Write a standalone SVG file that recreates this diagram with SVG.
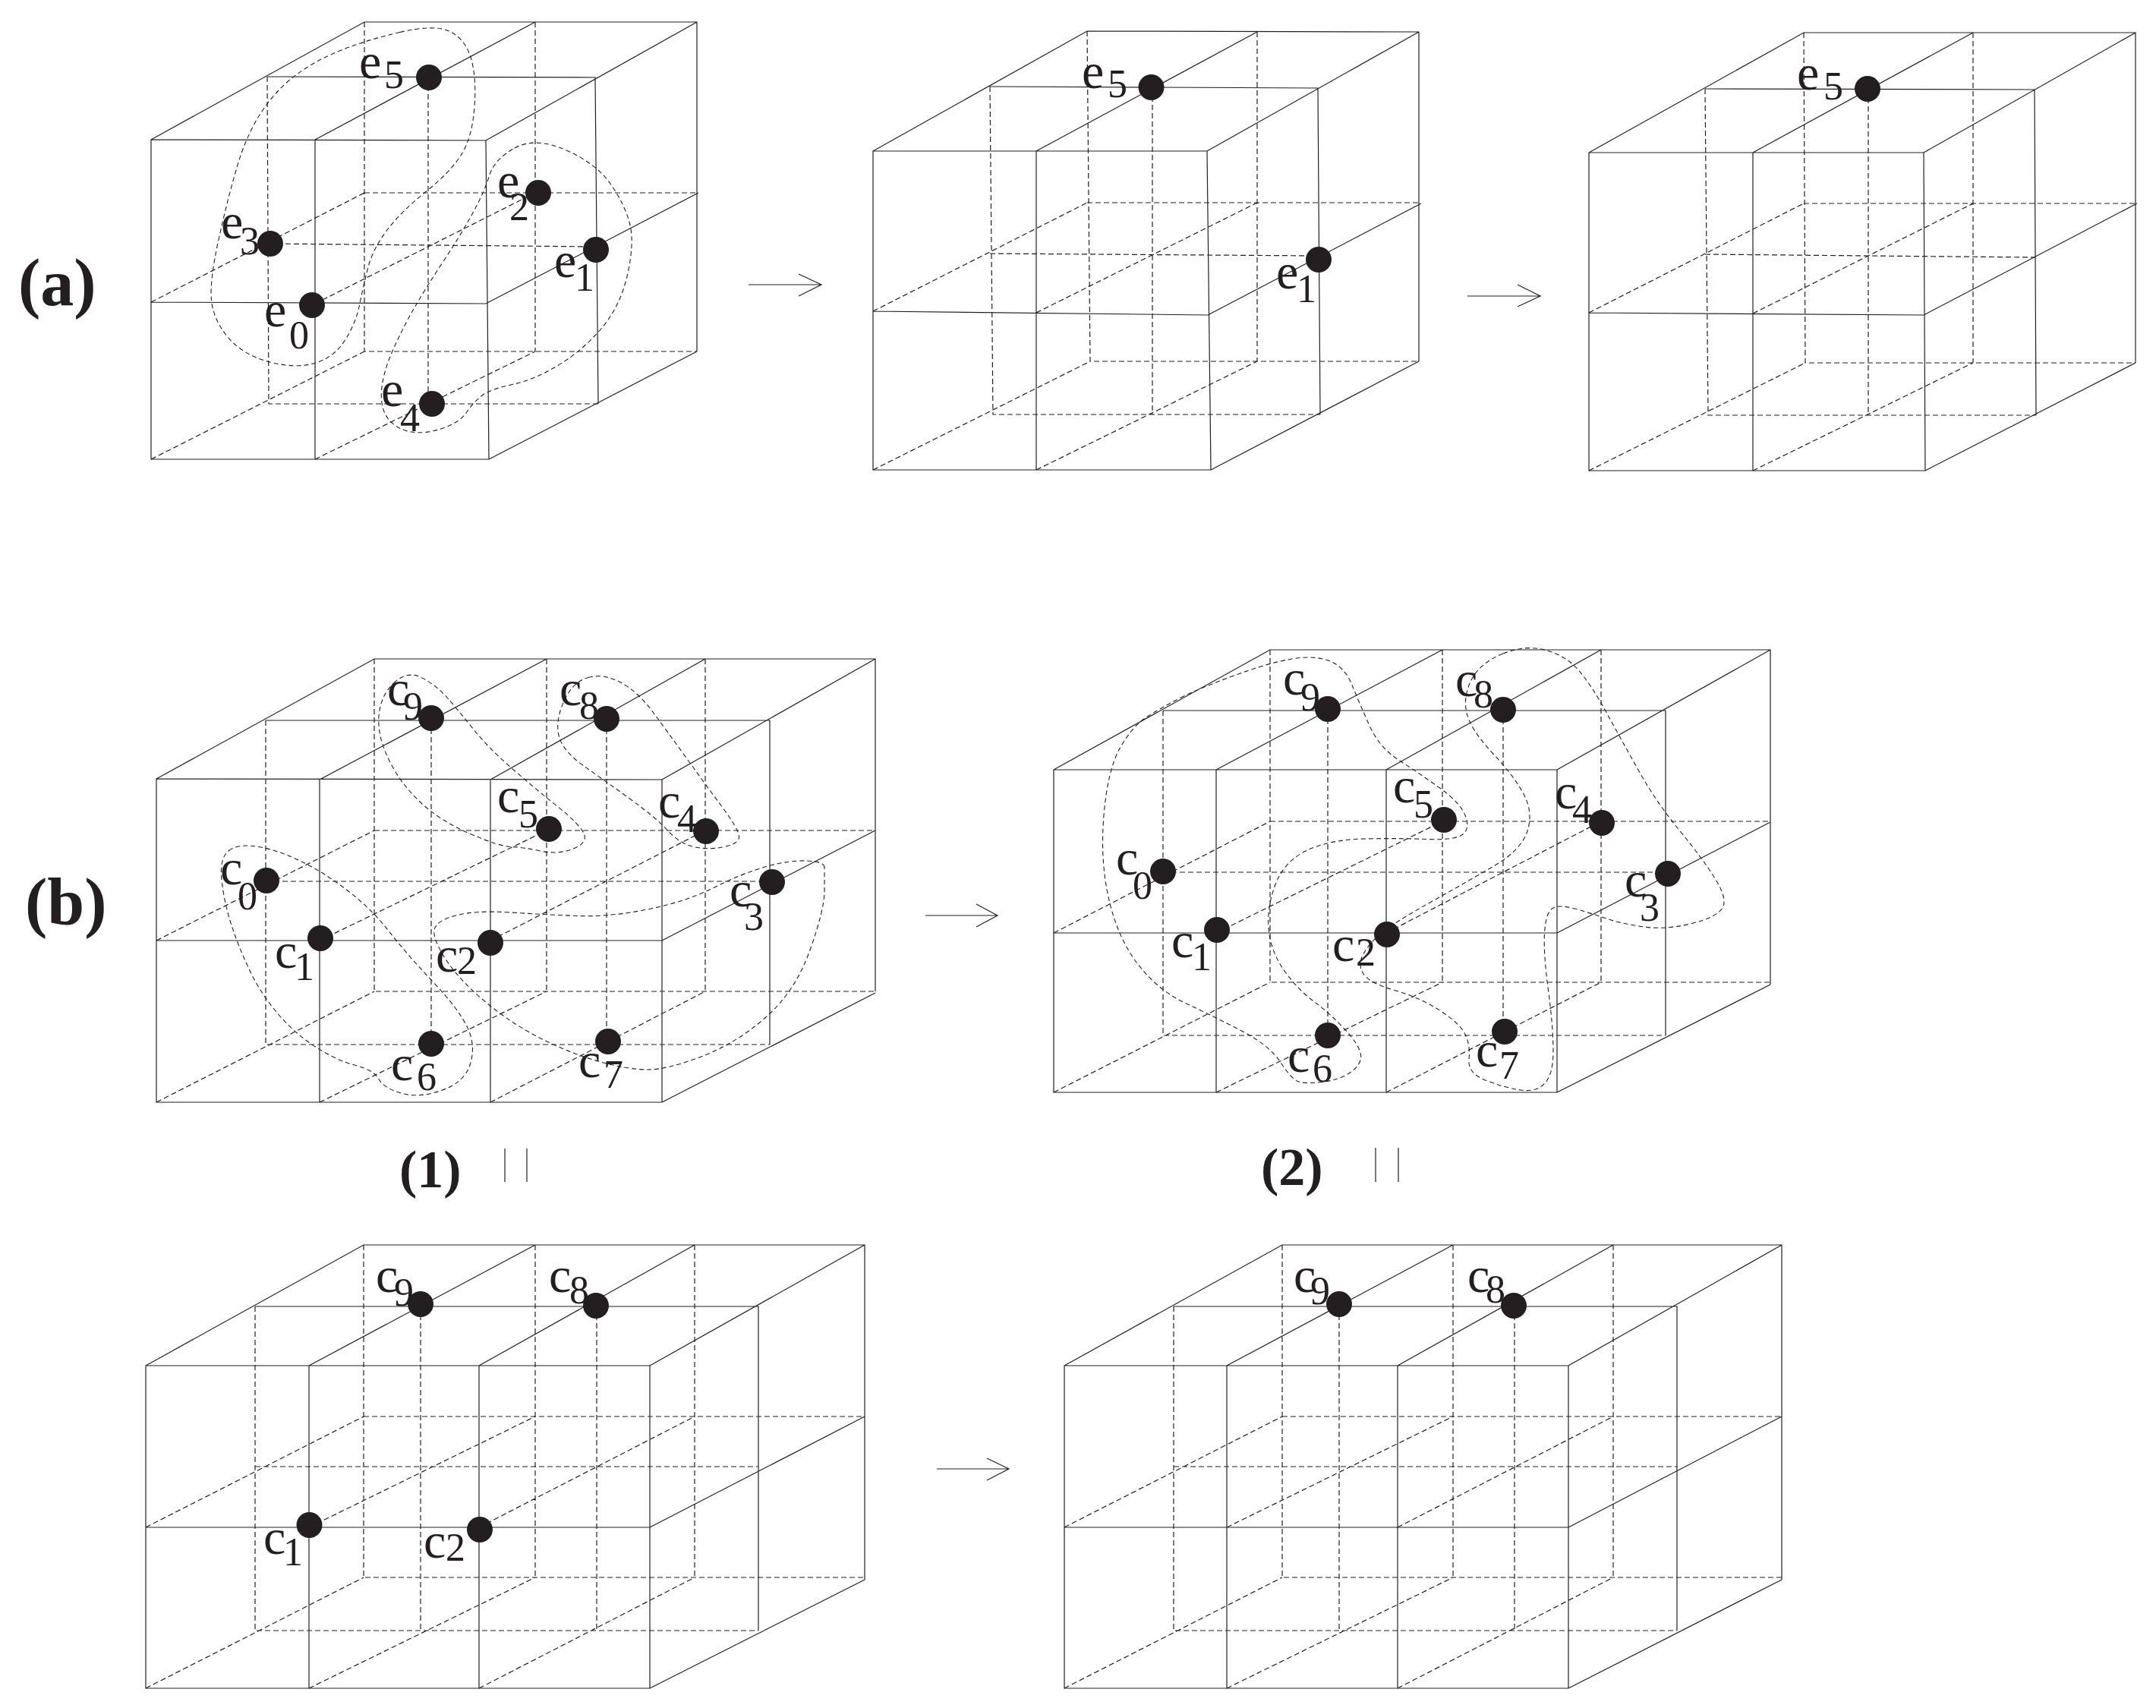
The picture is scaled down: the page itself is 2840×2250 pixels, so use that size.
<svg xmlns="http://www.w3.org/2000/svg" width="2840" height="2250" viewBox="0 0 2840 2250">
<style>
.s{fill:none;stroke:#231f20;stroke-width:1.2}
.d{fill:none;stroke:#231f20;stroke-width:1.2;stroke-dasharray:7 4}
.b{fill:none;stroke:#231f20;stroke-width:1.1;stroke-dasharray:6 4}
.dot{fill:#231f20}
text{font-family:"Liberation Serif","Times New Roman",serif;fill:#231f20}
.l{font-size:66px}
.n{font-size:52px}
.t{font-size:88px;font-weight:bold}
.u{font-size:70px;font-weight:bold}
</style>
<rect width="2840" height="2250" fill="#fff"/>
<g id="connectors">
<g id="grid-a1"><path class="s" d="M199 184L640 185L644 605H199Z M415 184V605 M199 398L640 400 M199 184L480 29H918V463 M415 184L705 29 M640 185L918 29 M352 101L784 102L788 532 M640 400L920 254 M644 605L918 463"/><path class="d" d="M352 101L354 532H788 M480 29V463H918 M705 29V463 M564 102V532 M480 254H920 M354 321L785 325 M199 398L480 254 M415 400L705 254 M199 605L480 463 M415 605L705 463"/></g>
<g id="grid-a2"><path class="s" d="M1150 199H1590L1595 619H1150Z M1365 199V619 M1150 410L1591 415 M1150 199L1432 41L1869 42V476 M1365 199L1656 42 M1590 199L1869 42 M1304 114L1736 116L1739 546 M1591 415L1872 268 M1595 619L1869 476"/><path class="d" d="M1304 114L1308 546H1739 M1432 41L1436 476H1869 M1656 42V476 M1518 116V546 M1432 267H1872 M1304 334L1736 337 M1150 410L1432 267 M1365 412L1656 267 M1150 619L1436 476 M1365 619L1656 476"/></g>
<g id="grid-a3"><path class="s" d="M2093 201H2534L2536 620H2093Z M2309 201V620 M2093 412L2534 415 M2093 201L2376 43H2813V478 M2309 201L2599 43 M2534 201L2813 43 M2246 117L2680 118L2682 547 M2534 415L2815 268 M2536 620L2813 478"/><path class="d" d="M2246 117L2250 547H2682 M2376 43L2378 478H2813 M2599 43V478 M2461 118V547 M2376 268H2815 M2246 335L2681 339 M2093 412L2376 268 M2309 413L2599 268 M2093 620L2378 478 M2309 620L2599 478"/></g>
<g id="grid-b1"><path class="s" d="M206 1026L872 1027V1452H206Z M421 1027V1452 M646 1027V1452 M206 1239H872 M206 1026L493 868H1153V1306 M421 1027L720 868 M646 1027L929 868 M872 1027L1153 868 M350 949H1014V1376 M872 1239L1153 1094 M872 1452L1153 1308"/><path class="d" d="M350 949V1376H1014 M493 868V1306H1153 M568 949V1376 M799 949V1376 M720 868V1306 M929 868V1306 M493 1094H1153 M350 1161H1014 M206 1239L493 1094 M421 1239L720 1094 M646 1239L929 1094 M206 1452L493 1306 M421 1452L720 1306 M646 1452L929 1306"/></g>
<g id="grid-b2"><path class="s" d="M1388 1014H2051V1439H1388Z M1602 1014V1439 M1826 1014V1439 M1388 1229H2051 M1388 1014L1673 856H2332V1297 M1602 1014L1900 856 M1826 1014L2109 856 M2051 1014L2332 856 M1532 936H2194V1364 M2051 1229L2332 1083 M2051 1439L2332 1297"/><path class="d" d="M1532 936V1364H2194 M1673 856V1294H2332 M1749 936V1364 M1980 936V1364 M1900 856V1294 M2109 856V1294 M1673 1082H2332 M1532 1149H2194 M1388 1229L1673 1082 M1602 1229L1900 1082 M1826 1229L2109 1082 M1388 1439L1673 1294 M1602 1439L1900 1294 M1826 1439L2109 1294"/></g>
<g id="grid-c1"><path class="s" d="M192 1799H856V2224H192Z M407 1799V2224 M631 1799V2224 M192 2012H856 M192 1799L479 1640H1139V2081 M407 1799L705 1640 M631 1799L915 1640 M856 1799L1139 1640 M336 1721H999V2148 M856 2012L1139 1866 M856 2224L1139 2081"/><path class="d" d="M336 1721V2148H999 M479 1640V2078H1139 M554 1721V2148 M786 1721V2148 M705 1640V2078 M915 1640V2078 M479 1866H1139 M336 1932H999 M192 2012L479 1866 M407 2012L705 1866 M631 2012L915 1866 M192 2224L479 2078 M407 2224L705 2078 M631 2224L915 2078"/></g>
<g id="grid-c2"><path class="s" d="M1402 1799H2066V2224H1402Z M1616 1799V2224 M1841 1799V2224 M1402 2012H2066 M1402 1799L1689 1640H2347V2081 M1616 1799L1914 1640 M1841 1799L2125 1640 M2066 1799L2347 1640 M1546 1721H2209V2148 M2066 2012L2347 1866 M2066 2224L2347 2081"/><path class="d" d="M1546 1721V2148H2209 M1689 1640V2078H2347 M1764 1721V2148 M1995 1721V2148 M1914 1640V2078 M2125 1640V2078 M1689 1866H2347 M1546 1932H2209 M1402 2012L1689 1866 M1616 2012L1914 1866 M1841 2012L2125 1866 M1402 2224L1689 2078 M1616 2224L1914 2078 M1841 2224L2125 2078"/></g>
<g id="blobs">
<path class="b" d="M526.5 42.5Q571 32 591.5 41Q612 50 620 75.5Q628 101 625 141Q622 181 607.5 204Q593 227 561 252.5Q529 278 510 303Q491 328 484.5 353.5Q478 379 473.5 402Q469 425 454.5 448Q440 471 414.5 478.5Q389 486 354 476.5Q319 467 300 444Q281 421 278.5 395.5Q276 370 288 315.5Q300 261 312.5 219Q325 177 344.5 147.5Q364 118 389.5 99Q415 80 448.5 66.5Q482 53 526.5 42.5Z"/>
<path class="b" d="M678 195Q705 180 745 197.5Q785 215 804 242Q823 269 829.5 294.5Q836 320 826.5 362Q817 404 791.5 433.5Q766 463 734 482Q702 501 673 507Q644 513 633 522.5Q622 532 614 544Q606 556 583.5 564Q561 572 542 569Q523 566 512 552.5Q501 539 502.5 515.5Q504 492 517 462.5Q530 433 545.5 406Q561 379 583.5 345Q606 311 622 282Q638 253 644.5 231.5Q651 210 678 195Z"/>
<path class="b" d="M518.5 900Q536 883 555 892.5Q574 902 589 919Q604 936 623.5 960.5Q643 985 673.5 1011.5Q704 1038 734.5 1062.5Q765 1087 769.5 1099Q774 1111 754 1118.5Q734 1126 711.5 1121Q689 1116 673.5 1115.5Q658 1115 619.5 1098.5Q581 1082 554.5 1057.5Q528 1033 512.5 1001.5Q497 970 499 943.5Q501 917 518.5 900Z"/>
<path class="b" d="M775 892.5Q796 887 818.5 899.5Q841 912 860.5 938.5Q880 965 904.5 999Q929 1033 950.5 1062Q972 1091 973.5 1101Q975 1111 954 1115.5Q933 1120 914 1115.5Q895 1111 879.5 1094Q864 1077 830 1052.5Q796 1028 769 1009Q742 990 736.5 970.5Q731 951 742.5 924.5Q754 898 775 892.5Z"/>
<path class="b" d="M301.5 1120.5Q314 1111 340.5 1115.5Q367 1120 397.5 1135Q428 1150 459 1174Q490 1198 512.5 1227Q535 1256 569.5 1292.5Q604 1329 615.5 1353Q627 1377 619.5 1401.5Q612 1426 581.5 1436.5Q551 1447 528 1440Q505 1433 499 1421.5Q493 1410 468.5 1403.5Q444 1397 417 1380Q390 1363 367 1336.5Q344 1310 329 1278.5Q314 1247 304.5 1217.5Q295 1188 292 1159Q289 1130 301.5 1120.5Z"/>
<path class="b" d="M1086 1142.5Q1086 1135 1063 1134Q1040 1133 1009.5 1141.5Q979 1150 941 1169Q903 1188 853 1198Q803 1208 761 1206.5Q719 1205 673 1202Q627 1199 600.5 1206Q574 1213 572 1225Q570 1237 587 1263.5Q604 1290 638.5 1319Q673 1348 711.5 1367.5Q750 1387 788 1398Q826 1409 853 1409Q880 1409 926 1391Q972 1373 1010 1339Q1048 1305 1067 1251.5Q1086 1198 1086 1174Q1086 1150 1086 1142.5Z"/>
<path class="b" d="M1555.5 919Q1579 907 1625.5 890Q1672 873 1701.5 868Q1731 863 1751 870.5Q1771 878 1781 902.5Q1791 927 1804 956Q1817 985 1843.5 1002Q1870 1019 1896.5 1038Q1923 1057 1930 1074Q1937 1091 1927 1099Q1917 1107 1880.5 1105.5Q1844 1104 1797.5 1105Q1751 1106 1721 1120.5Q1691 1135 1679.5 1166.5Q1668 1198 1671.5 1227Q1675 1256 1693 1280.5Q1711 1305 1731 1319.5Q1751 1334 1771 1355.5Q1791 1377 1792.5 1389.5Q1794 1402 1779 1412.5Q1764 1423 1741 1425.5Q1718 1428 1709.5 1424.5Q1701 1421 1686.5 1399Q1672 1377 1635.5 1358Q1599 1339 1562.5 1322Q1526 1305 1499.5 1271Q1473 1237 1461 1186Q1449 1135 1454 1074.5Q1459 1014 1475.5 985Q1492 956 1512 943.5Q1532 931 1555.5 919Z"/>
<path class="b" d="M1980 861Q2010 849 2036.5 856.5Q2063 864 2079.5 883Q2096 902 2116 938.5Q2136 975 2159 1016Q2182 1057 2212 1093.5Q2242 1130 2259 1157Q2276 1184 2269 1196Q2262 1208 2228.5 1216.5Q2195 1225 2165.5 1221Q2136 1217 2116 1210Q2096 1203 2074.5 1197Q2053 1191 2044.5 1197Q2036 1203 2034.5 1229.5Q2033 1256 2039.5 1304.5Q2046 1353 2046 1384.5Q2046 1416 2034.5 1427.5Q2023 1439 2003 1436Q1983 1433 1958 1423.5Q1933 1414 1935 1395.5Q1937 1377 1930 1362.5Q1923 1348 1896.5 1331Q1870 1314 1837 1304.5Q1804 1295 1796 1283Q1788 1271 1796 1256.5Q1804 1242 1820.5 1228.5Q1837 1215 1887 1187Q1937 1159 1970 1139.5Q2003 1120 2011.5 1096Q2020 1072 2008 1048Q1996 1024 1966.5 992.5Q1937 961 1932 939Q1927 917 1938.5 895Q1950 873 1980 861Z"/>
</g>
<g id="arrows">
<path class="s" d="M986 375H1082M1052 361L1082 375L1052 390"/>
<path class="s" d="M1933 390H2029M1999 375L2029 390L1999 404"/>
<path class="s" d="M1219 1206H1314M1286 1191L1314 1206L1286 1221"/>
<path class="s" d="M1234 1935H1329M1300 1921L1329 1935L1300 1950"/>
</g>
<g id="bars">
<path class="s" d="M665 1513V1557M694 1513V1557M1812 1512V1557M1842 1512V1557"/>
</g>
</g>
<g id="titles">
<text class="t" x="24" y="402">(a)</text>
<text class="t" x="33" y="1218">(b)</text>
<text class="u" x="526" y="1564">(1)</text>
<text class="u" x="1661" y="1561">(2)</text>
</g>
<g id="a1-e0"><circle class="dot" cx="411" cy="402" r="17"/><text class="l" x="348" y="430">e<tspan class="n" x="381" y="459">0</tspan></text></g>
<g id="a1-e1"><circle class="dot" cx="785" cy="329" r="17"/><text class="l" x="730" y="365">e<tspan class="n" x="757" y="383">1</tspan></text></g>
<g id="a1-e2"><circle class="dot" cx="709" cy="254" r="17"/><text class="l" x="655" y="260">e<tspan class="n" x="671" y="290">2</tspan></text></g>
<g id="a1-e3"><circle class="dot" cx="356" cy="321" r="17"/><text class="l" x="291" y="314">e<tspan class="n" x="316" y="335">3</tspan></text></g>
<g id="a1-e4"><circle class="dot" cx="569" cy="532" r="17"/><text class="l" x="502" y="535">e<tspan class="n" x="527" y="568">4</tspan></text></g>
<g id="a1-e5"><circle class="dot" cx="565" cy="102" r="17"/><text class="l" x="473" y="103">e<tspan class="n" x="506" y="116">5</tspan></text></g>
<g id="a2-e5"><circle class="dot" cx="1516.5" cy="115" r="17"/><text class="l" x="1425" y="116">e<tspan class="n" x="1459" y="128">5</tspan></text></g>
<g id="a2-e1"><circle class="dot" cx="1737" cy="342" r="17"/><text class="l" x="1681" y="380">e<tspan class="n" x="1708" y="398">1</tspan></text></g>
<g id="a3-e5"><circle class="dot" cx="2460" cy="117" r="17"/><text class="l" x="2367" y="118">e<tspan class="n" x="2402" y="131">5</tspan></text></g>
<g id="b1-c0"><circle class="dot" cx="351" cy="1160" r="17"/><text class="l" x="290" y="1165">c<tspan class="n" x="313" y="1198">0</tspan></text></g>
<g id="b1-c1"><circle class="dot" cx="422" cy="1236" r="17"/><text class="l" x="362" y="1275">c<tspan class="n" x="388" y="1291">1</tspan></text></g>
<g id="b1-c2"><circle class="dot" cx="646" cy="1242" r="17"/><text class="l" x="574" y="1280">c<tspan class="n" x="602" y="1283">2</tspan></text></g>
<g id="b1-c3"><circle class="dot" cx="1017" cy="1162" r="17"/><text class="l" x="961" y="1194">c<tspan class="n" x="980" y="1225">3</tspan></text></g>
<g id="b1-c4"><circle class="dot" cx="930" cy="1095" r="17"/><text class="l" x="867" y="1077">c<tspan class="n" x="892" y="1096">4</tspan></text></g>
<g id="b1-c5"><circle class="dot" cx="723" cy="1092" r="17"/><text class="l" x="655" y="1070">c<tspan class="n" x="683" y="1090">5</tspan></text></g>
<g id="b1-c6"><circle class="dot" cx="568" cy="1375" r="17"/><text class="l" x="515" y="1423">c<tspan class="n" x="549" y="1436">6</tspan></text></g>
<g id="b1-c7"><circle class="dot" cx="801" cy="1372" r="17"/><text class="l" x="762" y="1419">c<tspan class="n" x="795" y="1433">7</tspan></text></g>
<g id="b1-c8"><circle class="dot" cx="799" cy="947" r="17"/><text class="l" x="737" y="929">c<tspan class="n" x="763" y="947">8</tspan></text></g>
<g id="b1-c9"><circle class="dot" cx="568" cy="946" r="17"/><text class="l" x="510" y="929">c<tspan class="n" x="531" y="948">9</tspan></text></g>
<g id="b2-c0"><circle class="dot" cx="1532" cy="1148" r="17"/><text class="l" x="1470" y="1152">c<tspan class="n" x="1492" y="1184">0</tspan></text></g>
<g id="b2-c1"><circle class="dot" cx="1603" cy="1225" r="17"/><text class="l" x="1543" y="1261">c<tspan class="n" x="1570" y="1278">1</tspan></text></g>
<g id="b2-c2"><circle class="dot" cx="1827" cy="1231" r="17"/><text class="l" x="1755" y="1266">c<tspan class="n" x="1786" y="1272">2</tspan></text></g>
<g id="b2-c3"><circle class="dot" cx="2197" cy="1151" r="17"/><text class="l" x="2140" y="1181">c<tspan class="n" x="2160" y="1213">3</tspan></text></g>
<g id="b2-c4"><circle class="dot" cx="2110" cy="1084" r="17"/><text class="l" x="2048" y="1065">c<tspan class="n" x="2071" y="1084">4</tspan></text></g>
<g id="b2-c5"><circle class="dot" cx="1902" cy="1080" r="17"/><text class="l" x="1835" y="1057">c<tspan class="n" x="1862" y="1077">5</tspan></text></g>
<g id="b2-c6"><circle class="dot" cx="1749" cy="1364" r="17"/><text class="l" x="1696" y="1412">c<tspan class="n" x="1729" y="1425">6</tspan></text></g>
<g id="b2-c7"><circle class="dot" cx="1982" cy="1359" r="17"/><text class="l" x="1944" y="1405">c<tspan class="n" x="1975" y="1421">7</tspan></text></g>
<g id="b2-c8"><circle class="dot" cx="1980" cy="935" r="17"/><text class="l" x="1917" y="917">c<tspan class="n" x="1941" y="932">8</tspan></text></g>
<g id="b2-c9"><circle class="dot" cx="1749" cy="934" r="17"/><text class="l" x="1690" y="915">c<tspan class="n" x="1713" y="936">9</tspan></text></g>
<g id="c1-c1"><circle class="dot" cx="407.5" cy="2009" r="17"/><text class="l" x="347" y="2047">c<tspan class="n" x="373" y="2062">1</tspan></text></g>
<g id="c1-c2"><circle class="dot" cx="632" cy="2015" r="17"/><text class="l" x="558" y="2052">c<tspan class="n" x="587" y="2056">2</tspan></text></g>
<g id="c1-c8"><circle class="dot" cx="785" cy="1720" r="17"/><text class="l" x="723" y="1702">c<tspan class="n" x="750" y="1717">8</tspan></text></g>
<g id="c1-c9"><circle class="dot" cx="554" cy="1718" r="17"/><text class="l" x="495" y="1702">c<tspan class="n" x="519" y="1720">9</tspan></text></g>
<g id="c2-c8"><circle class="dot" cx="1994" cy="1720" r="17"/><text class="l" x="1933" y="1702">c<tspan class="n" x="1957" y="1716">8</tspan></text></g>
<g id="c2-c9"><circle class="dot" cx="1764" cy="1718" r="17"/><text class="l" x="1704" y="1702">c<tspan class="n" x="1726" y="1718">9</tspan></text></g>
</svg>
